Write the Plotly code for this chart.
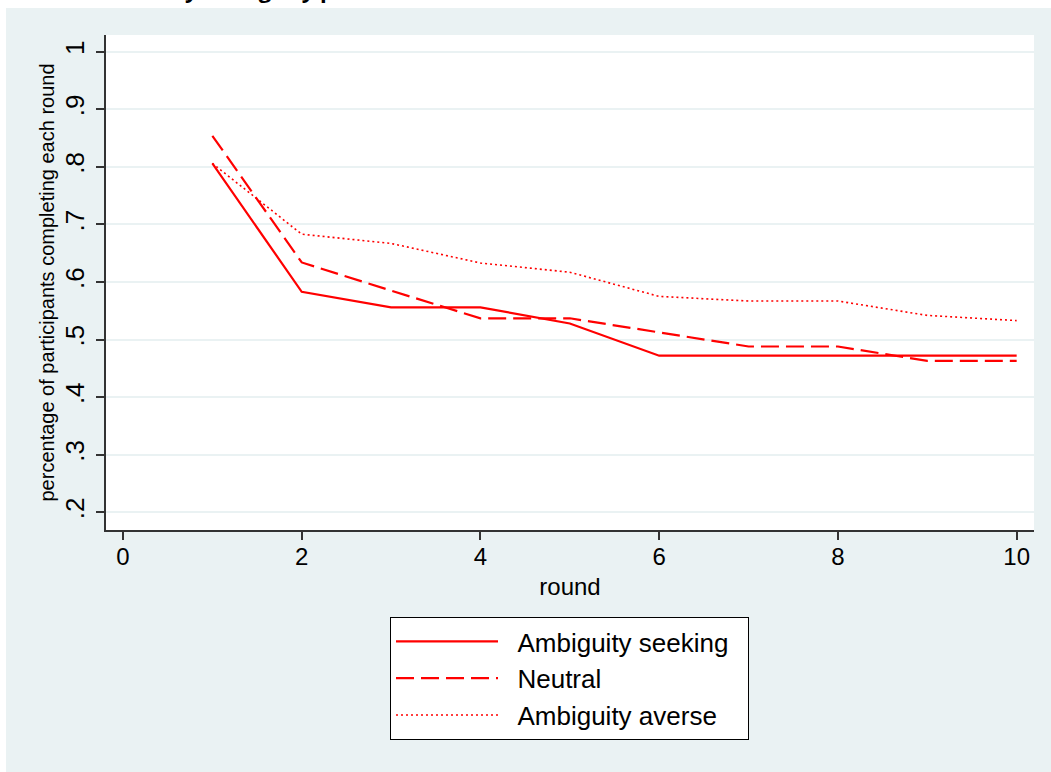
import plotly.graph_objects as go

# Share of participants still completing the task in each round,
# split by ambiguity attitude.
rounds = [1, 2, 3, 4, 5, 6, 7, 8, 9, 10]
seeking = [0.806, 0.583, 0.556, 0.556, 0.528, 0.472, 0.472, 0.472, 0.472, 0.472]
neutral = [0.854, 0.634, 0.585, 0.537, 0.537, 0.512, 0.488, 0.488, 0.463, 0.463]
averse = [0.806, 0.683, 0.667, 0.633, 0.617, 0.575, 0.567, 0.567, 0.542, 0.533]

series_names = ["Ambiguity seeking", "Neutral", "Ambiguity averse"]
y_ticks = [0.2, 0.3, 0.4, 0.5, 0.6, 0.7, 0.8, 0.9, 1.0]
y_tick_text = [".2", ".3", ".4", ".5", ".6", ".7", ".8", ".9", "1"]
x_ticks = [0, 2, 4, 6, 8, 10]

RED = "#FF0000"
BG = "#EAF2F3"
FONT = "Liberation Sans, Arial, sans-serif"
NBSP = "\u00a0"


def legend_label(name):
    # non-breaking spaces give the legend text some breathing room
    return NBSP * 2 + name + NBSP * 2


fig = go.Figure()
fig.add_trace(go.Scatter(x=rounds, y=seeking, mode="lines", name=legend_label(series_names[0]),
                         line=dict(color=RED, width=2.2)))
fig.add_trace(go.Scatter(x=rounds, y=neutral, mode="lines", name=legend_label(series_names[1]),
                         line=dict(color=RED, width=2.2, dash="18px,7px")))
fig.add_trace(go.Scatter(x=rounds, y=averse, mode="lines", name=legend_label(series_names[2]),
                         line=dict(color=RED, width=1.6, dash="2px,3px")))

W, H = 1051, 772
L, R, T, B = 106, 17, 35, 242
pw, ph = W - L - R, H - T - B


def px_x(p):
    return (p - L) / pw


def px_y(p):
    return (H - B - p) / ph


fig.update_layout(
    width=W, height=H,
    margin=dict(l=L, r=R, t=T, b=B, pad=0),
    paper_bgcolor="white",
    plot_bgcolor="white",
    font=dict(family=FONT, color="#000000"),
    showlegend=True,
    legend=dict(
        x=px_x(390), y=px_y(617), xanchor="left", yanchor="top",
        bgcolor="white", bordercolor="#000000", borderwidth=1,
        font=dict(size=26, family=FONT, color="#000000"),
        itemwidth=102, traceorder="normal",
    ),
    shapes=[
        dict(type="rect", xref="paper", yref="paper", layer="below",
             x0=px_x(6), x1=px_x(1060), y0=px_y(780), y1=px_y(8),
             fillcolor=BG, line=dict(width=0)),
        dict(type="rect", xref="paper", yref="paper", layer="below",
             x0=0, x1=1, y0=0, y1=1, fillcolor="white", line=dict(width=0)),
    ],
    annotations=[
        dict(text="<b>Attrition by ambiguity preference</b>", xref="paper", yref="paper",
             x=px_x(68), y=px_y(6), xanchor="left", yanchor="bottom", showarrow=False,
             font=dict(size=22, family="Open Sans, sans-serif", color="#000000")),
    ],
)

fig.update_xaxes(
    range=[-0.19, 10.194], tickvals=x_ticks, ticks="outside", ticklen=8, tickwidth=1.5,
    tickcolor="#333333", showline=True, linecolor="#333333", linewidth=1.5,
    showgrid=False, zeroline=False, tickfont=dict(size=24), ticklabelstandoff=-4,
    title=dict(text="round", font=dict(size=24), standoff=10),
)
fig.update_yaxes(
    range=[0.1693, 1.029], tickvals=y_ticks, ticktext=y_tick_text, tickangle=-90,
    ticks="outside", ticklen=8, tickwidth=1.5, tickcolor="#333333",
    showline=True, linecolor="#333333", linewidth=1.5, ticklabelstandoff=2,
    showgrid=True, gridcolor=BG, gridwidth=2, zeroline=False, tickfont=dict(size=26),
    title=dict(text="percentage of participants completing each round",
               font=dict(size=20), standoff=0),
)

fig.write_html("out.html")
